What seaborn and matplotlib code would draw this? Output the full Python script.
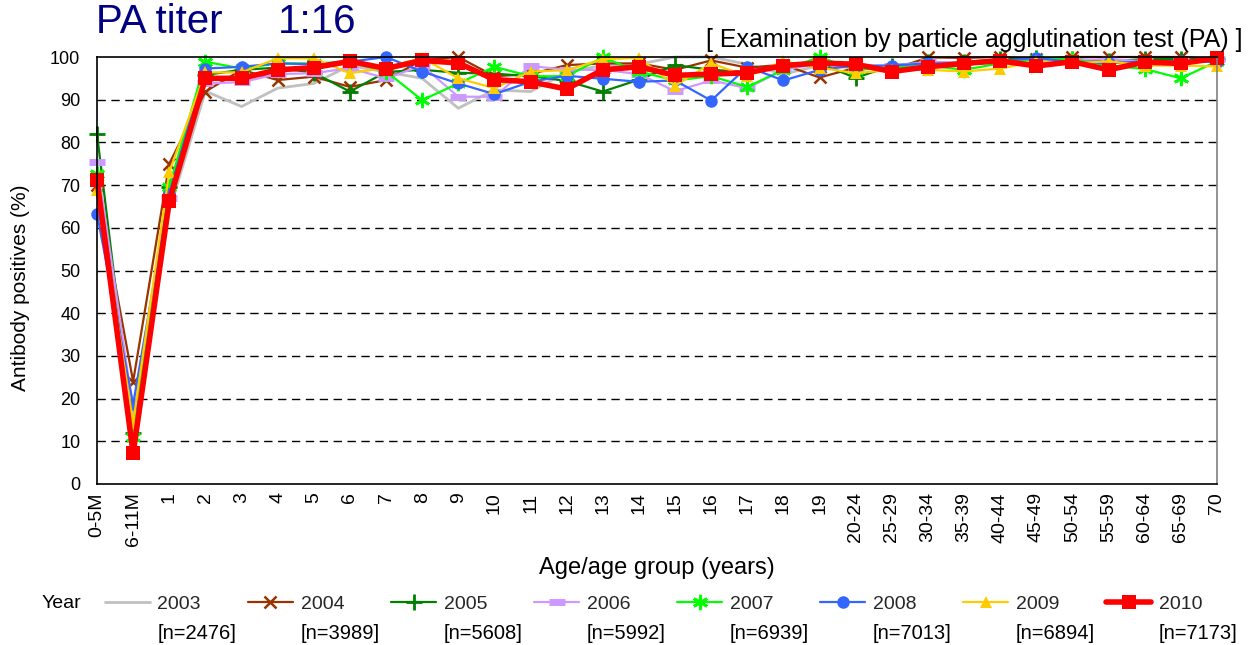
import matplotlib
matplotlib.use('Agg')
import matplotlib.pyplot as plt
import seaborn as sns
import numpy as np
import pandas as pd

# Age groups on the x axis
ages = ['0-5M', '6-11M'] + [str(i) for i in range(1, 20)] + \
       ['20-24', '25-29', '30-34', '35-39', '40-44', '45-49', '50-54',
        '55-59', '60-64', '65-69', '70']

years = ['2003', '2004', '2005', '2006', '2007', '2008', '2009', '2010']
counts = [2476, 3989, 5608, 5992, 6939, 7013, 6894, 7173]

# Antibody positive rate (%)
v2003 = [70.0, 15.0, 64.0, 92.0, 88.4, 92.7, 93.8, 98.0, 96.5, 95.0, 88.0,
         92.3, 91.9, 96.5, 98.0, 98.3, 100.0, 100.0, 98.3, 96.0, 98.0, 97.5,
         97.0, 98.5, 98.5, 99.0, 99.0, 99.0, 99.0, 99.0, 99.0, 99.0]
v2004 = [70.0, 24.0, 75.0, 91.9, 97.0, 94.6, 95.4, 93.0, 94.6, 99.3, 100.0,
         95.5, 96.0, 98.1, 98.5, 98.5, 97.0, 99.2, 97.5, 98.2, 95.2, 97.5,
         97.0, 99.9, 99.8, 100.0, 99.5, 100.0, 100.0, 100.0, 100.0, 99.5]
v2005 = [82.0, 12.0, 69.6, 95.8, 97.0, 97.5, 96.3, 91.9, 96.5, 97.0, 96.3,
         96.1, 95.5, 94.4, 91.9, 94.7, 98.1, 97.0, 96.5, 97.7, 98.5, 95.1,
         98.0, 98.8, 98.8, 99.5, 99.8, 99.5, 99.0, 99.5, 99.5, 99.5]
v2006 = [75.5, 17.3, 67.0, 93.8, 94.1, 96.0, 96.2, 97.4, 95.0, 98.0, 90.7,
         90.7, 97.9, 97.0, 97.0, 96.0, 92.0, 94.5, 92.7, 97.0, 98.5, 97.5,
         98.0, 98.8, 98.8, 99.0, 99.0, 99.3, 99.5, 99.0, 99.0, 99.5]
v2007 = [72.5, 11.1, 69.6, 98.9, 97.3, 98.5, 98.5, 98.9, 96.6, 89.9, 93.8,
         97.7, 95.5, 95.5, 99.9, 96.6, 94.5, 95.5, 93.0, 97.0, 100.0, 97.0,
         97.5, 98.0, 97.0, 98.5, 99.5, 99.5, 98.0, 97.2, 95.0, 99.0]
v2008 = [63.3, 18.7, 68.0, 97.3, 97.7, 98.5, 98.3, 98.9, 100.0, 96.6, 93.8,
         91.3, 94.2, 95.6, 94.9, 94.2, 94.5, 89.8, 97.7, 94.5, 97.0, 98.0,
         98.0, 98.5, 98.5, 99.0, 99.8, 98.8, 98.5, 99.0, 99.0, 98.8]
v2009 = [68.8, 14.3, 73.1, 96.4, 96.4, 99.7, 99.7, 96.2, 97.5, 99.8, 95.0,
         92.7, 96.6, 96.9, 99.5, 99.8, 93.3, 98.5, 95.5, 99.0, 97.5, 96.2,
         97.0, 97.0, 96.6, 97.3, 99.0, 98.5, 99.0, 98.0, 98.0, 97.8]
v2010 = [71.2, 7.2, 66.2, 95.0, 95.0, 97.0, 97.5, 99.0, 97.3, 99.2, 98.6,
         94.7, 94.2, 92.5, 97.0, 97.7, 95.7, 96.0, 96.3, 98.0, 98.6, 98.3,
         96.6, 97.7, 98.5, 99.1, 97.9, 98.9, 97.0, 98.8, 98.5, 99.7]

series = [v2003, v2004, v2005, v2006, v2007, v2008, v2009, v2010]

rows = []
for yr, vals in zip(years, series):
    for i, (a, v) in enumerate(zip(ages, vals)):
        rows.append({'Year': yr, 'pos': i, 'age': a, 'value': v})
df = pd.DataFrame(rows)

# colour, marker, marker size, line width, marker edge width
styles = {
    '2003': ('#C0C0C0', None, 0, 2.0, 0),
    '2004': ('#993300', 'x', 9, 1.6, 1.8),
    '2005': ('#008000', '+', 11, 1.6, 2.0),
    '2006': ('#CC99FF', '_', 11, 1.6, 5.0),
    '2007': ('#00FF00', (6, 2, 0), 11, 1.6, 2.0),
    '2008': ('#3366FF', 'o', 9, 1.6, 0),
    '2009': ('#FFCC00', '^', 9, 1.6, 0),
    '2010': ('#FF0000', 's', 10, 4.0, 0),
}

sns.set_theme(style='white')
plt.rcParams['font.family'] = ['Liberation Sans', 'DejaVu Sans']

fig = plt.figure(figsize=(12.49, 6.45), dpi=100)
ax = fig.add_axes([97 / 1249, 1 - 484 / 645, 1120 / 1249, 427 / 645])

for yr in years:
    color, marker, ms, lw, mew = styles[yr]
    sub = df[df['Year'] == yr]
    kw = dict(color=color, linewidth=lw, label=yr, clip_on=False)
    if marker is not None:
        kw.update(marker=marker, markersize=ms, markeredgewidth=mew,
                  markeredgecolor=color, markerfacecolor=color)
    sns.lineplot(data=sub, x='pos', y='value', ax=ax, **kw)

ax.set_xlim(0, len(ages) - 1)
ax.set_ylim(0, 100)
ax.set_xticks(range(len(ages)))
ax.set_xticklabels(ages, rotation=90, fontsize=14)
ax.set_yticks(range(0, 101, 10))
ax.tick_params(axis='y', labelsize=13, length=0, pad=12)
ax.tick_params(axis='x', length=0, pad=6)
for t in ax.get_yticklabels() + ax.get_xticklabels():
    t.set_color('black')

for yv in range(10, 100, 10):
    ax.axhline(yv, color='black', lw=1, linestyle=(0, (6, 4)), zorder=0)

for side in ['left', 'bottom', 'top']:
    ax.spines[side].set_color('black')
    ax.spines[side].set_linewidth(1.2)
ax.spines['right'].set_color('#808080')
ax.spines['right'].set_linewidth(1.2)

ax.set_xlabel('Age/age group (years)', fontsize=17, color='black')
ax.set_ylabel('Antibody positives (%)', fontsize=15, color='black')
ax.xaxis.set_label_coords(0.5, -0.172)
ax.yaxis.set_label_coords(-0.060, 0.46)

fig.text(96 / 1249, 1 - 22 / 645, 'PA titer', fontsize=29,
         color='#000080', va='center', ha='left')
fig.text(278 / 1249, 1 - 22 / 645, '1:16', fontsize=29,
         color='#000080', va='center', ha='left')
fig.text(1243 / 1249, 1 - 40 / 645,
         '[ Examination by particle agglutination test (PA) ]',
         fontsize=18, color='black', va='center', ha='right')

handles, labels = ax.get_legend_handles_labels()
if ax.get_legend():
    ax.get_legend().remove()
leg = fig.legend(handles, labels, loc='center left',
                 bbox_to_anchor=(105 / 1249, 1 - 604 / 645), ncol=8,
                 frameon=False, fontsize=14, handlelength=2.3,
                 handletextpad=0.4, columnspacing=2.42, borderaxespad=0,
                 borderpad=0)
fig.text(42 / 1249, 1 - 604 / 645, 'Year', fontsize=14, va='center',
         ha='left', color='black')

fig.canvas.draw()
inv = fig.transFigure.inverted()
for txt, n in zip(leg.get_texts(), counts):
    bb = txt.get_window_extent()
    fx, fy = inv.transform((bb.x0, (bb.y0 + bb.y1) / 2 - 29))
    fig.text(fx, fy, f'[n={n}]', fontsize=14.5, va='center', ha='left',
             color='black')

fig.savefig('out.png', dpi=100)
